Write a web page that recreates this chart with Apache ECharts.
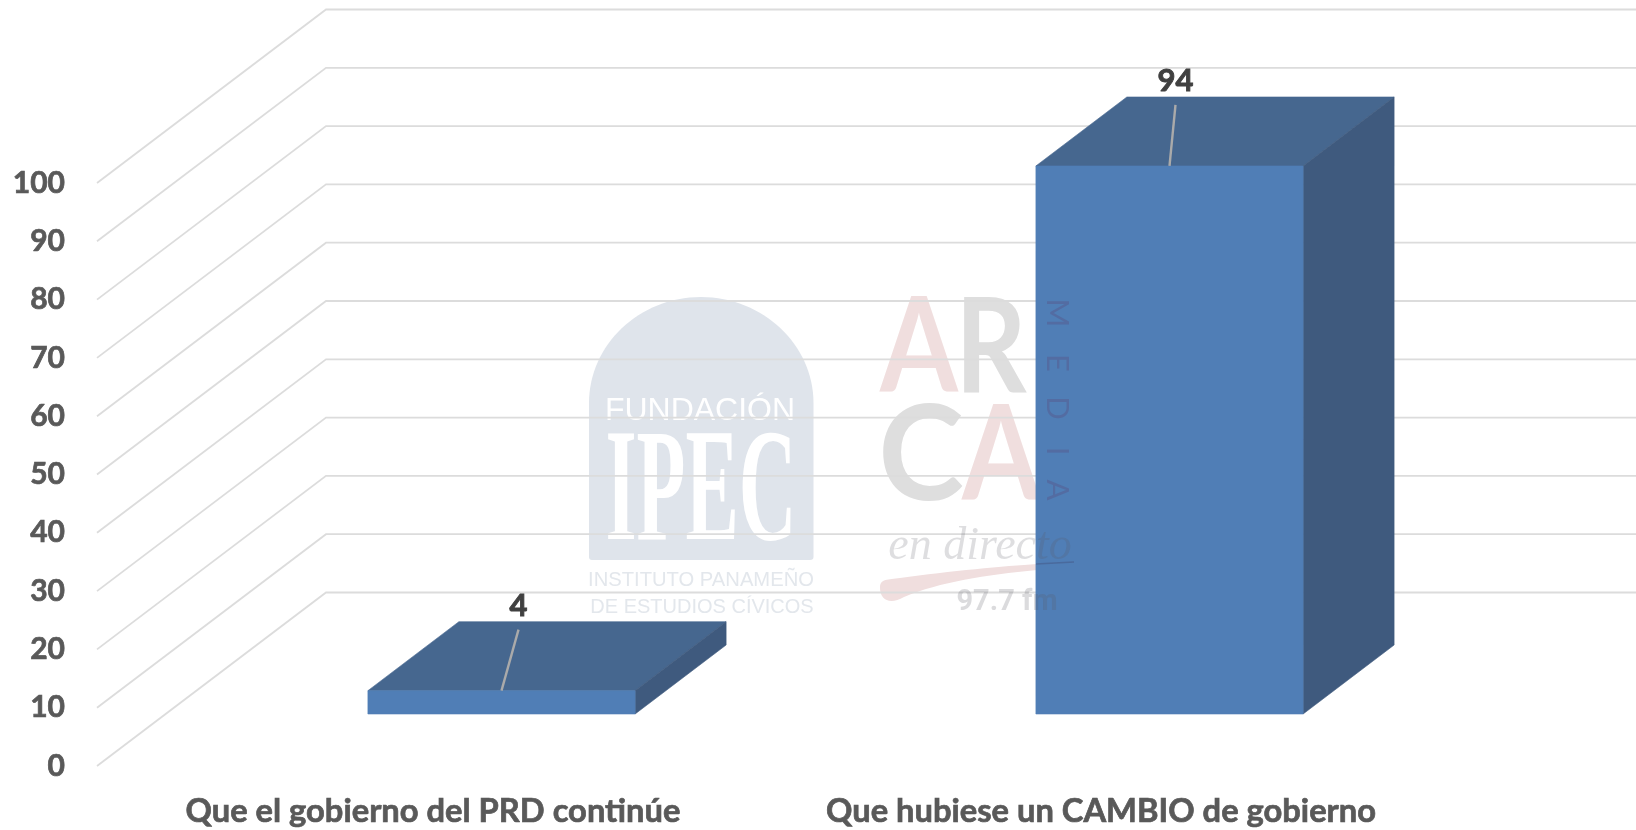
<!DOCTYPE html>
<html>
<head>
<meta charset="utf-8">
<style>html,body{margin:0;padding:0;background:#fff}#c{width:1636px;height:830px}</style>
<script src="https://cdn.jsdelivr.net/npm/echarts@6/dist/echarts.min.js"></script>
</head>
<body>
<div id="c"></div>
<script>
const categories = ['Que el gobierno del PRD continúe', 'Que hubiese un CAMBIO de gobierno'];
const values = [4, 94];
const gridValues = [0, 10, 20, 30, 40, 50, 60, 70, 80, 90, 100];
const mediaLetters = ['M', 'E', 'D', 'I', 'A'];

// 3D look of the plot: depth of the walls, position of the bars on the floor, depth of a bar
const WALL_DX = 229, WALL_DY = 173.5;
const FLOOR_DX = 70.5, FLOOR_DY = 52;
const BAR_DX = 91, BAR_DY = 69;
const LEADER_LEAN = [17, 6], LEADER_LEN = 61;

const chart = echarts.init(document.getElementById('c'), null, {renderer: 'canvas'});

function gridItem(params, api) {
  const p = api.coord([0, api.value(0)]);
  const x0 = params.coordSys.x;
  return {
    type: 'polyline',
    shape: {points: [[x0, p[1]], [x0 + WALL_DX, p[1] - WALL_DY], [api.getWidth(), p[1] - WALL_DY]]},
    style: {fill: 'none', stroke: '#dcdcdc', lineWidth: 1.8, blend: 'multiply'}
  };
}

function face(points, fill) {
  return {type: 'polygon', shape: {points: points}, style: {fill: fill, stroke: fill, lineWidth: 0.6}};
}

function barItem(params, api) {
  const i = api.value(0), v = api.value(1);
  const top = api.coord([i, v]), base = api.coord([i, 0]);
  const w = api.size([1, 0])[0] * 0.4;
  const l = top[0] + FLOOR_DX - w / 2, r = l + w;
  const y1 = top[1] - FLOOR_DY, y0 = base[1] - FLOOR_DY;
  const cx = (l + r) / 2, lean = LEADER_LEAN[i];
  return {
    type: 'group',
    children: [
      face([[l, y1], [l + BAR_DX, y1 - BAR_DY], [r + BAR_DX, y1 - BAR_DY], [r, y1]], '#46678f'),
      face([[r, y1], [r + BAR_DX, y1 - BAR_DY], [r + BAR_DX, y0 - BAR_DY], [r, y0]], '#3f5a7e'),
      face([[l, y1], [r, y1], [r, y0], [l, y0]], '#507eb6'),
      {type: 'line', shape: {x1: cx, y1: y1, x2: cx + lean, y2: y1 - LEADER_LEN},
        style: {stroke: '#aaaaaa', lineWidth: 2.4}},
      {type: 'text', x: cx + lean, y: y1 - LEADER_LEN - 24,
        style: {text: String(v), fill: '#404040', stroke: '#404040', lineWidth: 0.9, font: 'bold 31px Lato', align: 'center', verticalAlign: 'middle'}}
    ]
  };
}

function wmText(text, x, y, font, fill, extra) {
  return Object.assign({type: 'text', x: x, y: y,
    style: {text: text, font: font, fill: fill, align: 'center', verticalAlign: 'middle'}}, extra || {});
}

// logos behind the chart
function logoBack() {
  return {
    type: 'group',
    children: [
      {type: 'path',
        shape: {pathData: 'M592 560 Q589 560 589 557 L589 403 C589 345 639 297 701 297 C763 297 813.5 345 813.5 403 L813.5 557 Q813.5 560 810 560 Z'},
        style: {fill: '#dfe4eb'}},
      wmText('FUNDACIÓN', 700, 411, '32px "Liberation Sans"', '#ffffff'),
      wmText('IPEC', 701, 498, 'bold 160px "Liberation Serif"', '#ffffff', {scaleX: 0.5}),
      wmText('INSTITUTO PANAMEÑO', 701, 580, '20.2px "Liberation Sans"', '#e3e7ec'),
      wmText('DE ESTUDIOS CÍVICOS', 702, 607, '20px "Liberation Sans"', '#e3e7ec'),
      wmText('A', 919, 349, 'bold 132px Lato', '#f0dede', {scaleX: 0.85}),
      wmText('R', 991, 349, 'bold 132px Lato', '#dedede', {scaleX: 0.84}),
      wmText('C', 921, 457, 'bold 132px Lato', '#dedede', {scaleX: 0.98}),
      wmText('A', 1001, 457, 'bold 132px Lato', '#f0dede', {scaleX: 0.85}),
      {type: 'path',
        shape: {pathData: 'M880 588 C880 578 888 580 900 578 C950 571 1005 566 1037 564 L1037 570 C985 575 940 582 904 597 C890 605 880 600 880 588 Z'},
        style: {fill: '#f0dede'}}
    ]
  };
}

// parts of the logo that show through the bar
function logoFront() {
  const children = [
    wmText('en directo', 980, 547, 'italic 46px "Liberation Serif"', 'rgba(90,90,100,0.2)'),
    wmText('97.7 fm', 1007, 603, 'bold 29px Roboto', 'rgba(90,90,100,0.22)'),
    {type: 'line', shape: {x1: 1036, y1: 564, x2: 1074, y2: 562},
      style: {stroke: 'rgba(60,60,100,0.3)', lineWidth: 1.5}}
  ];
  mediaLetters.forEach(function (ch, k) {
    children.push(wmText(ch, 1057, [313, 363, 408, 451, 490][k], '31px Lato', 'rgba(90,70,120,0.32)', {rotation: -Math.PI / 2}));
  });
  return {type: 'group', children: children};
}

chart.setOption({
  animation: false,
  backgroundColor: '#ffffff',
  grid: {left: 97, right: 203, top: 183, bottom: 64, containLabel: false},
  xAxis: {
    type: 'category', data: categories,
    axisLine: {show: false}, axisTick: {show: false}, splitLine: {show: false},
    axisLabel: {color: '#595959', fontFamily: 'Lato', fontWeight: 'bold', fontSize: 32.7, margin: 29, interval: 0,
      padding: [0, 0, 0, 4], textBorderColor: '#595959', textBorderWidth: 0.7}
  },
  yAxis: {
    type: 'value', min: 0, max: 100, interval: 10,
    axisLine: {show: false}, axisTick: {show: false}, splitLine: {show: false},
    axisLabel: {color: '#595959', fontFamily: 'Lato', fontWeight: 'bold', fontSize: 30, margin: 32,
      padding: [3, 0, 0, 0], textBorderColor: '#595959', textBorderWidth: 0.7}
  },
  series: [
    {type: 'custom', coordinateSystem: 'none', clip: false, z: 0, silent: true, data: [[0]], renderItem: logoBack},
    {type: 'custom', coordinateSystem: 'cartesian2d', clip: false, z: 1, silent: true,
      data: gridValues.map(function (v) { return [v]; }),
      encode: {y: 0}, renderItem: gridItem},
    {type: 'custom', coordinateSystem: 'cartesian2d', clip: false, z: 2, silent: true,
      data: values.map(function (v, i) { return [i, v]; }),
      encode: {x: 0, y: 1}, renderItem: barItem},
    {type: 'custom', coordinateSystem: 'none', clip: false, z: 3, silent: true, data: [[0]], renderItem: logoFront}
  ]
});
</script>
</body>
</html>
